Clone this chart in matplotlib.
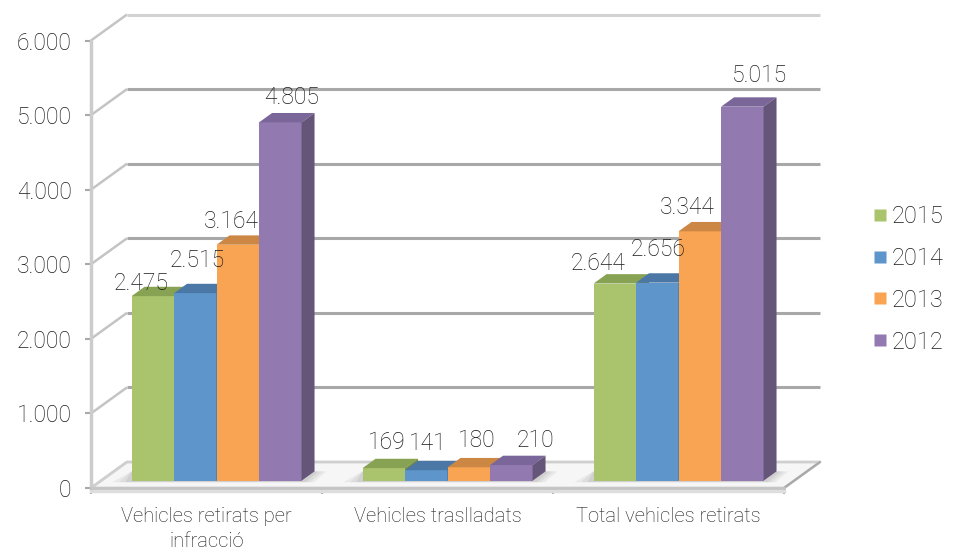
import matplotlib
matplotlib.use('Agg')
import matplotlib.pyplot as plt
from matplotlib.patches import Polygon
from matplotlib.lines import Line2D
from matplotlib.ticker import FuncFormatter

categories = ['Vehicles retirats per\ninfracció', 'Vehicles traslladats',
              'Total vehicles retirats']
years = ['2015', '2014', '2013', '2012']
v2015 = [2475, 169, 2644]
v2014 = [2515, 141, 2656]
v2013 = [3164, 180, 3344]
v2012 = [4805, 210, 5015]
series = [v2015, v2014, v2013, v2012]
yticks = [0, 1000, 2000, 3000, 4000, 5000, 6000]

face_col = ['#a9c46c', '#5e95cb', '#f9a453', '#9279b0']
top_col = ['#88a253', '#4a77a6', '#cc8744', '#7a6698']
side_col = ['#728a43', '#3f6793', '#b57232', '#655579']

# label centre offsets in px (right, up) from each bar's front top centre
off2015 = [(-11.5, 13), (3, 26), (-17, 20.5)]
off2014 = [(2, 33), (1, 26.5), (0.5, 32.7)]
off2013 = [(-6.5, 23), (8, 26.6), (-13, 24)]
off2012 = [(11, 25), (24, 25), (17.5, 31.5)]
offsets = [off2015, off2014, off2013, off2012]

plt.rcParams['font.family'] = ['Roboto', 'DejaVu Sans']
plt.rcParams['font.weight'] = 'light'
txt = '#1a1a1a'

W, H = 954, 553
L, R, B, T = 91, 784, 488, 40.5          # front plane in pixels
fig = plt.figure(figsize=(W / 100, H / 100), dpi=100)
ax = fig.add_axes([L / W, (H - B) / H, (R - L) / W, (B - T) / H])
ax.set_xlim(0, 3)
ax.set_ylim(0, 6000)

px_x = 3 / (R - L)
px_y = 6000 / (B - T)

# depth offsets (px) of wall, bar front and bar back
wall_dx, wall_dy = 36 * px_x, 26 * px_y
t_front, t_back = 0.28, 0.64
bw = 42.5 * px_x

# walls and floor
for i, v in enumerate(yticks):
    c = '#d2d2d2' if v in (0, 6000) else '#a8a8a8'
    ax.plot([0, wall_dx], [v, v + wall_dy], color='#c4c4c4', lw=1.8,
            clip_on=False, zorder=1, solid_capstyle='butt')
    if v > 0:
        ax.plot([wall_dx, 3 + wall_dx], [v + wall_dy] * 2, color=c, lw=2.2,
                clip_on=False, zorder=1, solid_capstyle='butt')

floor = Polygon([(0, 0), (3, 0), (3 + wall_dx, wall_dy), (wall_dx, wall_dy)],
                closed=True, facecolor='#f6f6f6', edgecolor='#cfcfcf',
                lw=2, clip_on=False, zorder=2)
ax.add_patch(floor)
ax.plot([3, 3 + wall_dx], [0, wall_dy], color='#a8a8a8', lw=1.5,
        clip_on=False, zorder=2)
ax.plot([0, 3], [-3 * px_y] * 2, color='#dedede', lw=2.5,
        clip_on=False, zorder=2)

# soft shadow on floor behind each group
for g in range(len(categories)):
    x0 = g + 0.5 - 2 * bw + t_front * wall_dx
    y0 = t_front * wall_dy
    for k, a in enumerate([0.05, 0.05, 0.06]):
        e = (3 - k) * 4 * px_x
        sh = Polygon([(x0 - e * 1.6, y0 - 1.5 * px_y),
                      (x0 + 4 * bw + e, y0 - 1.5 * px_y),
                      (x0 + 4 * bw + (t_back - t_front) * wall_dx + e,
                       y0 + (t_back - t_front) * wall_dy),
                      (x0, y0 + (t_back - t_front) * wall_dy)],
                     closed=True, facecolor='black', edgecolor='none',
                     alpha=a, clip_on=False, zorder=2.5)
        ax.add_patch(sh)

# 3d bars
ddx = (t_back - t_front) * wall_dx
ddy = (t_back - t_front) * wall_dy
z = 3
for g in range(len(categories)):
    for s, vals in enumerate(series):
        v = vals[g]
        x0 = g + 0.5 - 2 * bw + s * bw + t_front * wall_dx
        y0 = t_front * wall_dy
        ax.bar(x0, v, width=bw, bottom=y0, align='edge', color=face_col[s],
               lw=0, clip_on=False, zorder=z)
        top = Polygon([(x0, y0 + v), (x0 + bw, y0 + v),
                       (x0 + bw + ddx, y0 + v + ddy), (x0 + ddx, y0 + v + ddy)],
                      closed=True, facecolor=top_col[s], lw=0,
                      clip_on=False, zorder=z + 0.1)
        side = Polygon([(x0 + bw, y0), (x0 + bw, y0 + v),
                        (x0 + bw + ddx, y0 + v + ddy), (x0 + bw + ddx, y0 + ddy)],
                       closed=True, facecolor=side_col[s], lw=0,
                       clip_on=False, zorder=z + 0.1)
        ax.add_patch(top)
        ax.add_patch(side)
        z += 1
        dx, dy = offsets[s][g]
        ax.annotate('{:,}'.format(v).replace(',', '.'),
                    xy=(x0 + bw / 2, y0 + v), xytext=(dx * 0.72, dy * 0.72),
                    textcoords='offset points', ha='center', va='center',
                    fontsize=16.5, color=txt, zorder=50, annotation_clip=False)

# axes
for sp in ['top', 'right']:
    ax.spines[sp].set_visible(False)
ax.spines['left'].set_color('#cccccc')
ax.spines['left'].set_linewidth(2.5)
ax.spines['left'].set_zorder(2.6)
ax.spines['bottom'].set_color('#c4c4c4')
ax.spines['bottom'].set_linewidth(2)
ax.spines['bottom'].set_zorder(2.6)

ax.set_yticks(yticks)
ax.yaxis.set_major_formatter(FuncFormatter(
    lambda v, p: '{:,}'.format(int(v)).replace(',', '.')))
ax.tick_params(axis='y', length=4, width=1.5, color='#a8a8a8', pad=10,
               labelsize=16.5, labelcolor=txt)
ax.set_xticks([0, 1, 2, 3])
ax.set_xticklabels([])
ax.set_xticks([i + 0.5 for i in range(len(categories))], minor=True)
ax.set_xticklabels(categories, minor=True, fontsize=14.5, color=txt,
                   linespacing=1.4)
ax.tick_params(axis='x', which='major', length=4, width=1.5, color='#a8a8a8')
ax.tick_params(axis='x', which='minor', length=0, pad=14)

handles = [Line2D([], [], ls='none', marker='s', markersize=8,
                  markerfacecolor=c, markeredgecolor='none') for c in face_col]
fig.legend(handles, years, loc='center left', bbox_to_anchor=(0.893, 0.495),
           frameon=False, fontsize=17, labelspacing=0.8, handlelength=0.6,
           handletextpad=0.2, labelcolor=txt)

fig.savefig('out.png', dpi=100)
